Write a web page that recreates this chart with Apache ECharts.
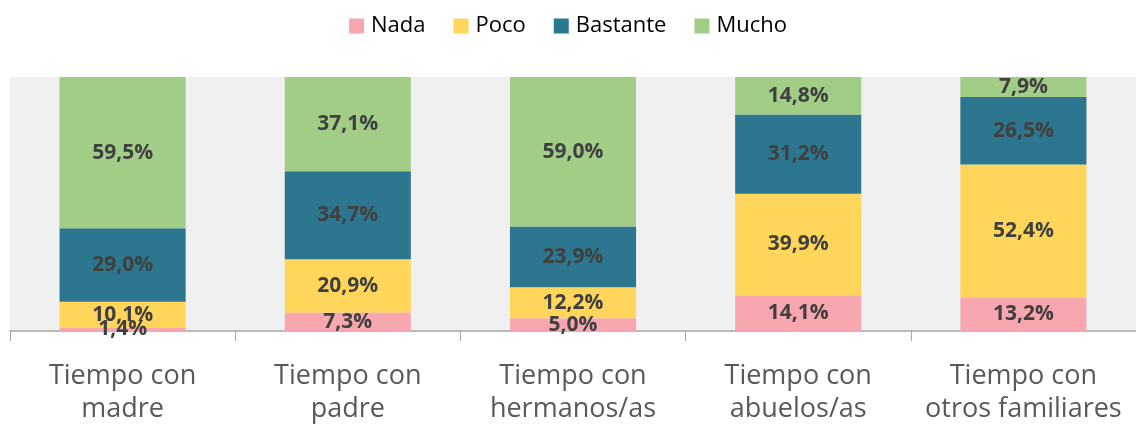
<!DOCTYPE html>
<html lang="es">
<head>
    <meta charset="utf-8">
    <title>Tiempo con familiares</title>
    <script src="https://cdn.jsdelivr.net/npm/echarts@6/dist/echarts.min.js"></script>
    <style>
        html, body { margin: 0; padding: 0; background: #fff; }
        #chart { width: 1136px; height: 426px; }
    </style>
</head>
<body>
    <div id="chart"></div>
    <script>
        var categories = ['Tiempo con\nmadre', 'Tiempo con\npadre', 'Tiempo con\nhermanos/as', 'Tiempo con\nabuelos/as', 'Tiempo con\notros familiares'];
        var nada = [1.4, 7.3, 5.0, 14.1, 13.2];
        var poco = [10.1, 20.9, 12.2, 39.9, 52.4];
        var bastante = [29.0, 34.7, 23.9, 31.2, 26.5];
        var mucho = [59.5, 37.1, 59.0, 14.8, 7.9];

        var font = '"Open Sans", "Noto Sans", sans-serif';

        function serie(name, data, color) {
            return {
                name: name,
                type: 'bar',
                stack: 'total',
                barWidth: '56%',
                data: data,
                itemStyle: { color: color },
                label: {
                    show: true,
                    position: 'inside',
                    color: '#404040',
                    fontFamily: font,
                    fontWeight: 'bold',
                    fontSize: 21,
                    formatter: function (p) {
                        return p.value.toFixed(1).replace('.', ',') + '%';
                    }
                }
            };
        }

        var myChart = echarts.init(document.getElementById('chart'));
        myChart.setOption({
            animation: false,
            legend: {
                top: 10,
                left: 'center',
                itemWidth: 15,
                itemHeight: 15,
                itemGap: 28,
                icon: 'rect',
                textStyle: { fontFamily: font, fontSize: 22, color: '#000', padding: [0, 0, 0, 2] }
            },
            grid: {
                left: 10,
                right: 0,
                top: 77,
                bottom: 95,
                outerBoundsMode: 'none',
                containLabel: false,
                show: true,
                backgroundColor: '#F0F0F0',
                borderWidth: 0
            },
            xAxis: {
                type: 'category',
                data: categories,
                axisLine: { lineStyle: { color: '#A6A6A6', width: 1.5 } },
                axisTick: { show: true, length: 10, lineStyle: { color: '#A6A6A6' } },
                axisLabel: {
                    margin: 29,
                    fontFamily: font,
                    fontSize: 27,
                    lineHeight: 33,
                    color: '#595959',
                    interval: 0
                }
            },
            yAxis: {
                type: 'value',
                min: 0,
                max: 100,
                show: false
            },
            series: [
                serie('Nada', nada, '#F8A7B0'),
                serie('Poco', poco, '#FFD55A'),
                serie('Bastante', bastante, '#2C778F'),
                serie('Mucho', mucho, '#A2CD86')
            ]
        });
    </script>
</body>
</html>
